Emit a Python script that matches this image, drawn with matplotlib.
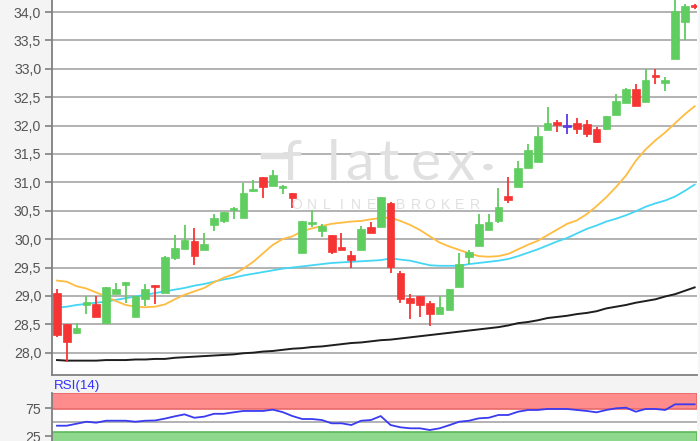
import matplotlib
matplotlib.use("Agg")
import matplotlib.pyplot as plt
import numpy as np

# ---------------- data ----------------
opens = [29.05, 28.50, 28.34, 28.84, 28.86, 28.53, 29.03, 29.20, 28.63, 28.95,
         29.20, 29.05, 29.66, 29.82, 29.97, 29.80, 30.25, 30.32, 30.51, 30.37,
         30.84, 31.09, 30.94, 30.92, 30.82, 29.75, 30.28, 30.14, 30.08, 29.86,
         29.72, 29.80, 30.22, 30.21, 30.63, 29.41, 28.96, 28.99, 28.87, 28.69,
         28.76, 29.15, 29.68, 29.88, 30.16, 30.32, 30.76, 30.91, 31.26, 31.35,
         31.92, 32.07, 32.00, 32.04, 32.02, 31.94, 31.94, 32.19, 32.40, 32.64,
         32.42, 32.89, 32.75, 33.17, 33.83, 34.12]
highs = [29.12, 28.50, 28.53, 28.99, 29.00, 29.15, 29.23, 29.25, 29.00, 29.21,
         29.20, 29.71, 30.08, 30.24, 30.19, 30.10, 30.44, 30.48, 30.57, 30.98,
         31.05, 31.09, 31.21, 30.95, 30.82, 30.32, 30.51, 30.26, 30.08, 30.10,
         29.79, 30.23, 30.31, 30.75, 30.66, 29.44, 29.03, 29.00, 28.91, 28.99,
         29.12, 29.76, 29.80, 30.44, 30.44, 30.90, 31.10, 31.38, 31.68, 31.98,
         32.32, 32.09, 32.20, 32.13, 32.10, 31.97, 32.16, 32.56, 32.66, 32.73,
         32.99, 32.99, 32.86, 34.40, 34.14, 34.14]
lows = [28.28, 27.83, 28.33, 28.69, 28.62, 28.53, 29.03, 28.87, 28.63, 28.82,
        28.86, 29.05, 29.64, 29.82, 29.54, 29.80, 30.14, 30.28, 30.35, 30.37,
        30.83, 30.73, 30.94, 30.79, 30.54, 29.75, 30.21, 30.03, 29.74, 29.81,
        29.50, 29.80, 30.10, 30.21, 29.41, 28.88, 28.59, 28.63, 28.47, 28.68,
        28.76, 29.15, 29.57, 29.88, 30.16, 30.28, 30.64, 30.91, 31.26, 31.35,
        31.92, 31.89, 31.85, 31.85, 31.79, 31.69, 31.92, 32.19, 32.40, 32.35,
        32.42, 32.73, 32.61, 33.17, 33.51, 34.06]
closes = [28.31, 28.18, 28.44, 28.90, 28.62, 29.15, 29.12, 29.25, 29.00, 29.12,
          29.16, 29.69, 29.85, 29.98, 29.70, 29.91, 30.37, 30.48, 30.55, 30.81,
          30.88, 30.91, 31.13, 30.95, 30.73, 30.32, 30.31, 30.23, 29.77, 29.81,
          29.63, 30.18, 30.10, 30.75, 29.51, 28.95, 28.88, 28.84, 28.69, 28.80,
          29.12, 29.57, 29.78, 30.27, 30.30, 30.56, 30.69, 31.26, 31.57, 31.82,
          32.04, 32.01, 32.00, 31.94, 31.85, 31.71, 32.16, 32.43, 32.64, 32.35,
          32.80, 32.85, 32.80, 34.01, 34.11, 34.08]

ma_short = [29.27, 29.25, 29.17, 29.13, 29.06, 28.99, 28.91, 28.84, 28.81, 28.80,
            28.81, 28.85, 28.94, 29.02, 29.08, 29.14, 29.24, 29.32, 29.38, 29.48,
            29.60, 29.75, 29.90, 30.00, 30.05, 30.14, 30.19, 30.23, 30.27, 30.29,
            30.31, 30.32, 30.35, 30.37, 30.38, 30.32, 30.25, 30.16, 30.05, 29.94,
            29.87, 29.81, 29.75, 29.70, 29.69, 29.70, 29.74, 29.82, 29.90, 29.97,
            30.07, 30.17, 30.27, 30.33, 30.44, 30.58, 30.74, 30.92, 31.12, 31.38,
            31.58, 31.74, 31.88, 32.04, 32.20, 32.34]
ma_mid = [28.79, 28.81, 28.84, 28.86, 28.88, 28.90, 28.93, 28.96, 28.99, 29.02,
          29.05, 29.08, 29.11, 29.14, 29.18, 29.21, 29.25, 29.29, 29.32, 29.36,
          29.39, 29.42, 29.45, 29.48, 29.50, 29.52, 29.54, 29.56, 29.58, 29.59,
          29.60, 29.61, 29.62, 29.63, 29.66, 29.64, 29.62, 29.58, 29.54, 29.53,
          29.53, 29.53, 29.56, 29.58, 29.60, 29.62, 29.65, 29.70, 29.76, 29.82,
          29.89, 29.96, 30.02, 30.10, 30.18, 30.24, 30.31, 30.36, 30.42, 30.49,
          30.57, 30.63, 30.68, 30.75, 30.85, 30.96]
ma_long = [27.87, 27.86, 27.86, 27.86, 27.86, 27.87, 27.87, 27.87, 27.88, 27.88,
           27.89, 27.89, 27.91, 27.92, 27.93, 27.94, 27.95, 27.96, 27.97, 27.99,
           28.00, 28.02, 28.03, 28.05, 28.07, 28.08, 28.10, 28.11, 28.13, 28.15,
           28.17, 28.18, 28.20, 28.22, 28.23, 28.25, 28.27, 28.29, 28.31, 28.33,
           28.35, 28.37, 28.39, 28.41, 28.43, 28.45, 28.48, 28.52, 28.54, 28.57,
           28.61, 28.63, 28.65, 28.68, 28.70, 28.73, 28.78, 28.81, 28.84, 28.88,
           28.91, 28.94, 28.99, 29.03, 29.09, 29.15]
rsi = [44.0, 44.0, 47.5, 51.0, 49.3, 52.8, 52.8, 52.8, 51.0, 52.8,
       53.2, 56.5, 60.5, 64.0, 58.0, 60.0, 65.0, 65.0, 67.6, 70.0,
       70.0, 70.0, 72.3, 68.0, 61.0, 55.8, 55.8, 54.0, 48.2, 48.2,
       45.2, 52.8, 54.0, 61.0, 45.2, 41.2, 39.4, 39.4, 36.4, 39.4,
       45.0, 51.0, 52.8, 57.0, 58.0, 62.9, 62.9, 68.7, 71.7, 71.7,
       73.5, 73.5, 73.5, 71.7, 70.0, 67.6, 71.7, 74.7, 75.8, 68.7,
       73.5, 73.5, 71.7, 81.7, 81.7, 81.7]

price_ticks = [28.0, 28.5, 29.0, 29.5, 30.0, 30.5, 31.0, 31.5, 32.0, 32.5, 33.0, 33.5, 34.0]
rsi_ticks = [25, 75]
rsi_label = "RSI(14)"
watermark_letters = ["f", "l", "a", "t", "e", "x"]
watermark_sub = "ONLINE BROKER"

# ---------------- figure ----------------
W, H = 700, 441
fig = plt.figure(figsize=(W / 100, H / 100), dpi=100, facecolor="#f4f4f4")

def fx(px):
    return px / W

def fy(py):
    return (H - py) / H

left_px, right_px = 52.3, 697
ax = fig.add_axes([fx(left_px), fy(375), fx(right_px - left_px), (375) / H])

n = len(opens)
x = np.arange(n)
o = np.array(opens); c = np.array(closes); hi = np.array(highs); lo = np.array(lows)

green, red, doji = "#5fcd5f", "#f73434", "#5a3ce0"
cols = [green if cc > oo else (red if cc < oo else doji) for oo, cc in zip(o, c)]

ax.vlines(x, lo, hi, colors=cols, lw=1.3, zorder=3)
bottoms = np.minimum(o, c)
heights = np.maximum(np.abs(c - o), 0.035)
ax.bar(x, heights, bottom=bottoms - np.where(np.abs(c - o) < 0.035, 0.0175, 0), width=0.78,
       color=cols, edgecolor=cols, lw=0.5, zorder=4)

ax.plot(x, ma_long, color="#1e1e1e", lw=1.4, zorder=2.5)
ax.plot(x, ma_mid, color="#45d6f5", lw=1.3, zorder=2.5)
ax.plot(x, ma_short, color="#ffbc40", lw=1.3, zorder=2.5)

ax.set_xlim((left_px - 57) / 9.81, (right_px - 57) / 9.81)
ax.set_ylim(34 - 363 / 56.78, 34 + 12 / 56.78)
ax.set_yticks(price_ticks)
ax.set_yticklabels([f"{t:.1f}".replace(".", ",") for t in price_ticks])
ax.set_xticks([])
ax.grid(axis="y", color="#b2b2b2", lw=1.4)
ax.set_axisbelow(True)
for s in ["top", "right"]:
    ax.spines[s].set_visible(False)
for s in ["left", "bottom"]:
    ax.spines[s].set_color("#808080")
    ax.spines[s].set_linewidth(1.3)
ax.tick_params(axis="y", length=5, width=1.2, color="#808080", pad=3,
               labelsize=10.2, labelcolor="#555555")
for lab in ax.get_yticklabels():
    lab.set_family("Liberation Sans")

# watermark (drawn behind the transparent price axes)
wm_color = "#e0e0e0"
ax.patch.set_alpha(0.0)
fig.patches.append(plt.Rectangle((fx(left_px), fy(375)), fx(right_px - left_px), 375 / H,
                                 transform=fig.transFigure, color="white", zorder=-1))
letter_px = [292, 334, 359, 389, 426, 461]
for ch, px in zip(watermark_letters, letter_px):
    fig.text(fx(px), fy(180), ch, ha="center", va="baseline", fontsize=41,
             color=wm_color, family="Lato", zorder=0.1)
fig.patches.append(plt.Rectangle((fx(261), fy(158)), fx(28), 5 / H, color=wm_color,
                                 transform=fig.transFigure, zorder=0.1))
fig.patches.append(plt.Circle((fx(488), fy(167)), 4 / W, color=wm_color,
                              transform=fig.transFigure, zorder=0.1))
for k, ch in enumerate(watermark_sub):
    fig.text(fx(297 + 14.8 * k), fy(205), ch, ha="center", va="center",
             fontsize=10, color=wm_color, family="Liberation Sans", zorder=0.1)

# RSI panel
rax = fig.add_axes([fx(left_px), 0, fx(right_px - left_px), fy(393)])
rax.set_facecolor("white")
r_lo, r_hi = 50 - (441 - 422.3) / 0.567, 50 + (422.3 - 393) / 0.567
rax.set_ylim(r_lo, r_hi)
rax.set_xlim(ax.get_xlim())
rax.axhspan(73.5, r_hi, facecolor="#ff8c8c", edgecolor="#e86a6a", lw=1.2, zorder=1)
rax.axhspan(r_lo - 5, 33.4, facecolor="#8ed88e", edgecolor="#5cb85c", lw=1.2, zorder=1)
rax.axhline(50, color="#b2b2b2", lw=1.4, zorder=1.5)
rax.plot(x, rsi, color="#3a3af0", lw=1.3, zorder=3)
rax.set_yticks(rsi_ticks)
rax.set_xticks([])
for s in ["top", "right", "bottom"]:
    rax.spines[s].set_visible(False)
rax.spines["left"].set_color("#808080")
rax.spines["left"].set_linewidth(1.3)
rax.tick_params(axis="y", length=5, width=1.2, color="#808080", pad=3,
                labelsize=10.2, labelcolor="#555555")
for lab in rax.get_yticklabels():
    lab.set_family("Liberation Sans")
fig.text(fx(53.5), fy(386), rsi_label, ha="left", va="center", fontsize=9.6,
         color="#3030ff", family="Liberation Sans")

fig.savefig("out.png", dpi=100, facecolor=fig.get_facecolor())
